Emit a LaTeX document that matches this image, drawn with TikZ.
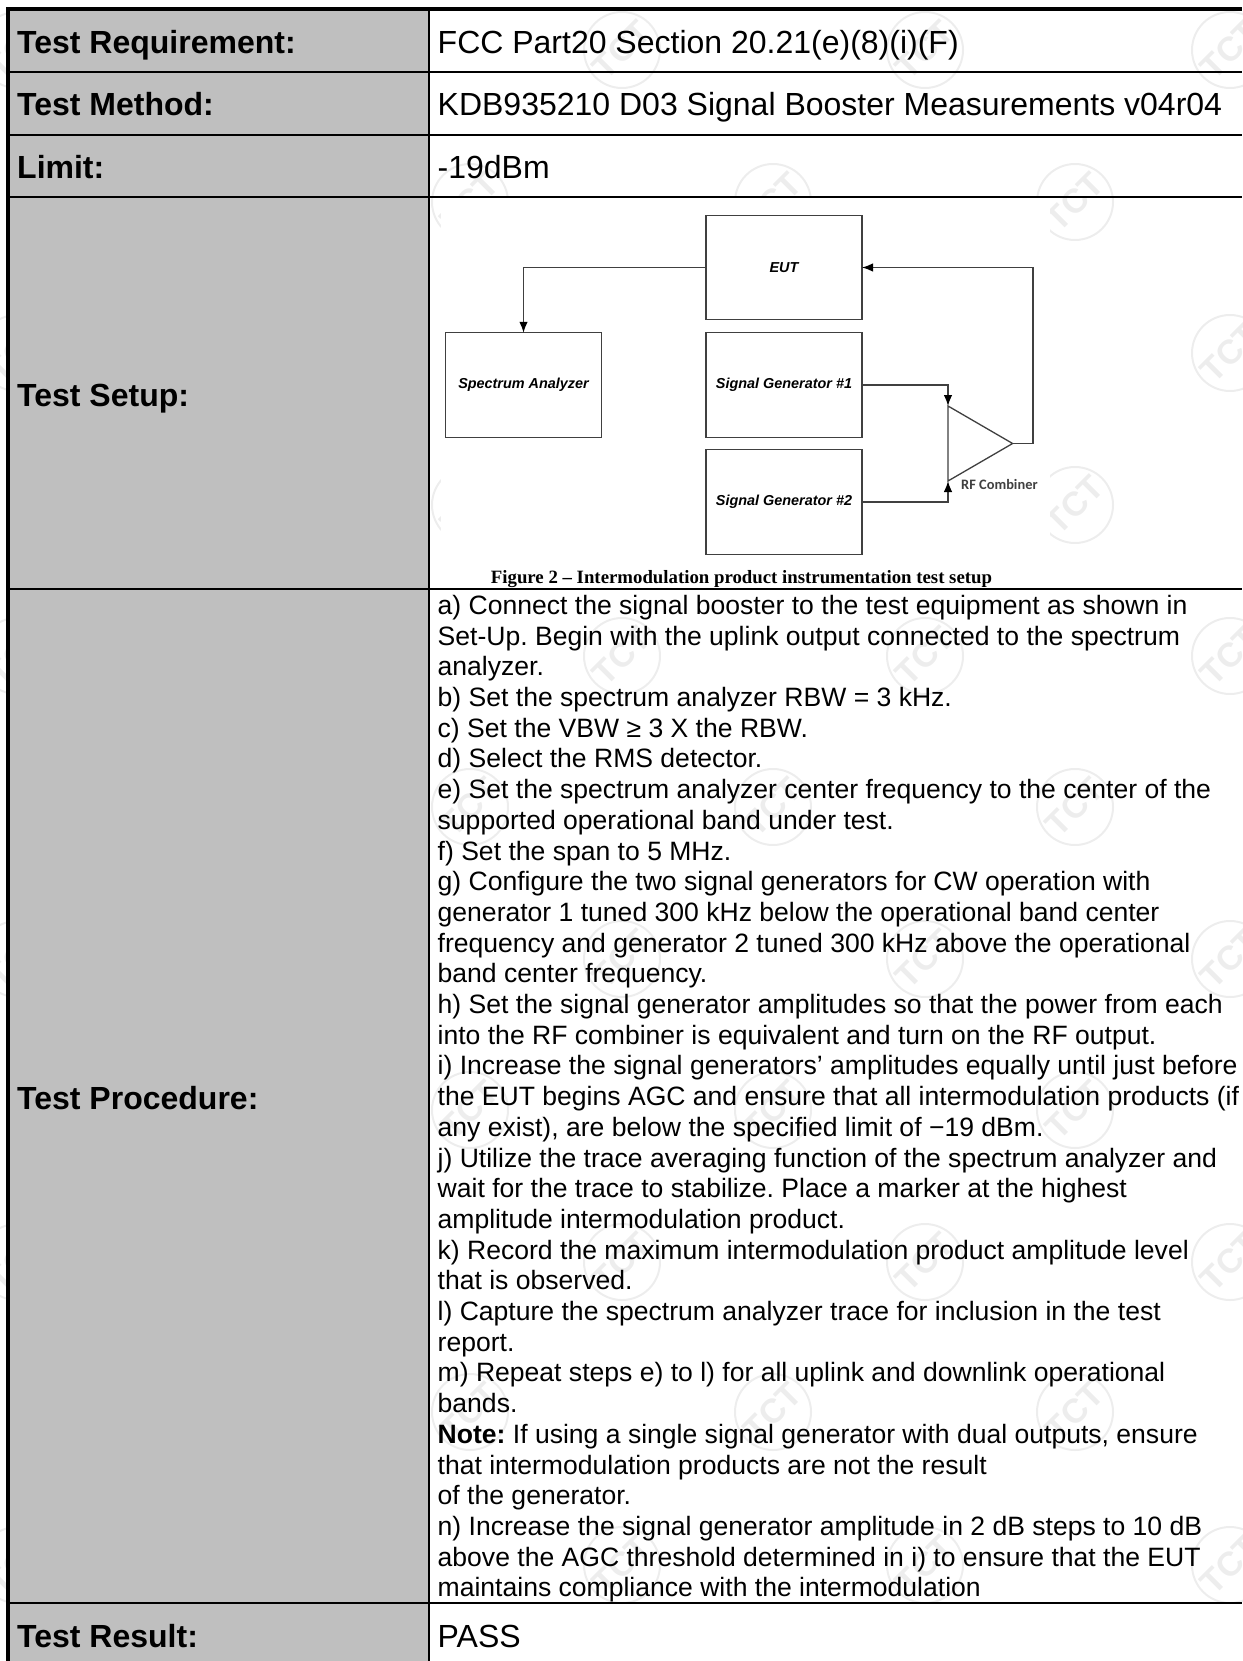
\documentclass[tikz,border=0pt]{standalone}
\usepackage{fontspec}
\setmainfont{Liberation Sans}
\newfontfamily\capfont{Liberation Serif}
\newfontfamily\rffont{Carlito}
\usetikzlibrary{arrows.meta}
\definecolor{cellgray}{HTML}{BFBFBF}
\definecolor{markgray}{HTML}{EDEDED}
\definecolor{wiregray}{HTML}{404040}
\tikzset{rowline/.style={line width=2pt,black}}
\tikzset{frameline/.style={line width=4pt,black}}
\tikzset{headtext/.style={anchor=base west,inner sep=0pt,font=\fontsize{32}{36}\selectfont\bfseries}}
\tikzset{celltext/.style={anchor=base west,inner sep=0pt,font=\fontsize{32}{36}\selectfont}}
\tikzset{stepstext/.style={anchor=north west,inner sep=0pt,align=left,font=\frenchspacing\fontsize{26.55}{30.7}\selectfont}}
\tikzset{unitbox/.style={draw=wiregray,line width=1.3pt,minimum width=156pt,minimum height=104.5pt,inner sep=0pt,outer sep=0pt,font=\fontsize{14.4}{16}\selectfont\bfseries\itshape}}
\tikzset{wire/.style={draw=wiregray,line width=1.3pt}}
\tikzset{wirearrow/.style={wire,-{Latex[length=11pt,width=8.5pt,black]}}}
\tikzset{stamp/.pic={
        \draw[markgray,line width=2pt] (0,0) circle (38pt);
        \node[rotate=45,text=markgray,font=\fontsize{34}{34}\selectfont\bfseries] at (0,0) {TCT};
    }}
\begin{document}
\begin{tikzpicture}[x=1pt,y=-1pt]
        \useasboundingbox (0,0) rectangle (1242,1661);
        % draw the watermark
        \foreach \py in {50,353,656,959,1262,1565} {
            \foreach \px in {17,320,622,925,1230} {
                \pic at (\px,\py) {stamp};
            }
        }
        \foreach \py in {202,505,807,1110,1412} {
            \foreach \px in {470,773,1075} {
                \pic at (\px,\py) {stamp};
            }
        }
        % the setup figure and the first column hide it
        \fill[white] (441,198) rectangle (1050,587);
        \fill[cellgray] (8,9) rectangle (428,1661);
        % draw the table
        \draw[frameline] (8,1661) -- (8,9) -- (1242,9);
        \draw[rowline] (428.5,9) -- (428.5,1661);
        \foreach \ry in {71.7,135,196.7,588.7,1602.7} {
            \draw[rowline] (8,\ry) -- (1242,\ry);
        }
        % labels of the rows
        \node[headtext] (hreq) at (17,53.5) {Test Requirement:};
        \node[headtext] (hmeth) at (17,116) {Test Method:};
        \node[headtext] (hlim) at (17,179) {Limit:};
        \node[headtext] (hset) at (17,406) {Test Setup:};
        \node[headtext] (hproc) at (17,1109.5) {Test Procedure:};
        \node[headtext] (hres) at (17,1647) {Test Result:};
        \node[celltext] (creq) at (437.5,53.5) {FCC Part20 Section 20.21(e)(8)(i)(F)};
        \node[celltext] (cmeth) at (437.5,116) {KDB935210 D03 Signal Booster Measurements v04r04};
        \node[celltext] (clim) at (437.5,179) {-19dBm};
        \node[celltext] (cres) at (437.5,1647) {PASS};
        % draw the setup
        \node[unitbox] (eut) at (784,267.5) {EUT};
        \node[unitbox] (sa) at (523.5,385) {Spectrum Analyzer};
        \node[unitbox] (sg1) at (784,385) {Signal Generator \#1};
        \node[unitbox] (sg2) at (784,502) {Signal Generator \#2};
        \coordinate (cbtop) at (948,406);
        \coordinate (cbbot) at (948,481);
        \coordinate (cbtip) at (1012.6,443.5);
        \coordinate (cbout) at (1033,443.5);
        \draw[wire] (cbtop) -- (cbtip) -- (cbbot) -- cycle;
        \draw[wirearrow] (eut.west) -| (sa.north);
        \draw[wirearrow] (sg1.east) -| (cbtop);
        \draw[wirearrow] (sg2.east) -| (cbbot);
        \draw[wire] (cbtip) -- (cbout);
        \draw[wirearrow] (cbout) |- (eut.east);
        \node[anchor=base west,inner sep=0pt,font=\rffont\fontsize{14.4}{16}\selectfont\bfseries,text=wiregray] (cblabel) at (961,489) {RF Combiner};
        \node[anchor=base,inner sep=0pt,font=\capfont\fontsize{18.8}{22}\selectfont\bfseries] (figcap) at (741.5,583.5) {Figure 2 – Intermodulation product instrumentation test setup};
        % steps of the procedure
        \node[stepstext] (steps) at (437.5,595) {a) Connect the signal booster to the test equipment as shown in\\
            Set-Up. Begin with the uplink output connected to the spectrum\\
            analyzer.\\
            b) Set the spectrum analyzer RBW = 3 kHz.\\
            c) Set the VBW ≥ 3 X the RBW.\\
            d) Select the RMS detector.\\
            e) Set the spectrum analyzer center frequency to the center of the\\
            supported operational band under test.\\
            f) Set the span to 5 MHz.\\
            g) Configure the two signal generators for CW operation with\\
            generator 1 tuned 300 kHz below the operational band center\\
            frequency and generator 2 tuned 300 kHz above the operational\\
            band center frequency.\\
            h) Set the signal generator amplitudes so that the power from each\\
            into the RF combiner is equivalent and turn on the RF output.\\
            i) Increase the signal generators’ amplitudes equally until just before\\
            the EUT begins AGC and ensure that all intermodulation products (if\\
            any exist), are below the specified limit of −19 dBm.\\
            j) Utilize the trace averaging function of the spectrum analyzer and\\
            wait for the trace to stabilize. Place a marker at the highest\\
            amplitude intermodulation product.\\
            k) Record the maximum intermodulation product amplitude level\\
            that is observed.\\
            l) Capture the spectrum analyzer trace for inclusion in the test\\
            report.\\
            m) Repeat steps e) to l) for all uplink and downlink operational\\
            bands.\\
            \textbf{Note:} If using a single signal generator with dual outputs, ensure\\
            that intermodulation products are not the result\\
            of the generator.\\
            n) Increase the signal generator amplitude in 2 dB steps to 10 dB\\
            above the AGC threshold determined in i) to ensure that the EUT\\
            maintains compliance with the intermodulation};
    \end{tikzpicture}
\end{document}
